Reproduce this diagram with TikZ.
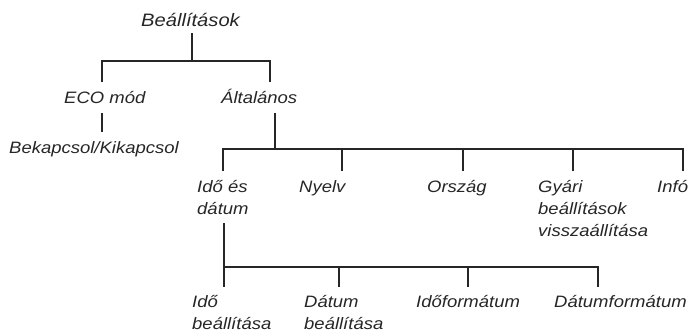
\documentclass[tikz,border=0pt]{standalone}
\usepackage{fontspec}
\setmainfont{Liberation Sans}[FakeStretch=1.12]
\definecolor{ink}{HTML}{262626}
\begin{document}
\begin{tikzpicture}[x=1pt,y=-1pt,
  lab/.style={anchor=base west,inner sep=0pt,align=left,text=ink,
    font=\fontsize{16.5}{22}\selectfont\itshape},
  rootlab/.style={lab,font=\fontsize{18}{22}\selectfont\itshape},
  link/.style={draw=ink,line width=1.8pt}]
\useasboundingbox (0,0) rectangle (692,335);
% labels (base anchor = baseline of the last line)
\node[rootlab] (root) at (141,26) {Beállítások};
\node[lab] (eco) at (64,103) {ECO mód};
\node[lab] (gen) at (221,103) {Általános};
\node[lab] (onoff) at (9,153) {Bekapcsol/Kikapcsol};
\node[lab] (dt) at (197,214) {Idő és\\dátum};
\node[lab] (lang) at (299,192) {Nyelv};
\node[lab] (country) at (427,192) {Ország};
\node[lab] (reset) at (538,236) {Gyári\\beállítások\\visszaállítása};
\node[lab] (info) at (657,192) {Infó};
\node[lab] (tset) at (192,329) {Idő\\beállítása};
\node[lab] (dset) at (304,329) {Dátum\\beállítása};
\node[lab] (tfmt) at (416,307) {Időformátum};
\node[lab] (dfmt) at (554,307) {Dátumformátum};
% junction points
\coordinate (rootb) at (192,33);
\coordinate (rootj) at (192,61);
\coordinate (ecot) at (102,82);
\coordinate (gent) at (270,82);
\coordinate (ecob) at (102,113);
\coordinate (onofft) at (102,132);
\coordinate (genb) at (275,113);
\coordinate (genj) at (275,149);
\coordinate (dtt) at (223,171);
\coordinate (langt) at (342,171);
\coordinate (countryt) at (463,171);
\coordinate (resett) at (573,171);
\coordinate (infot) at (683,171);
\coordinate (dtb) at (224,223);
\coordinate (dtj) at (224,267);
\coordinate (tsett) at (224,287);
\coordinate (dsett) at (339,287);
\coordinate (tfmtt) at (468,287);
\coordinate (dfmtt) at (598,287);
% connectors
\draw[link] (rootb) -- (rootj);
\draw[link] (ecot) |- (rootj) -| (gent);
\draw[link] (ecob) -- (onofft);
\draw[link] (genb) -- (genj);
\draw[link] (dtt) |- (genj) -| (infot);
\draw[link] (langt) -- (langt |- genj);
\draw[link] (countryt) -- (countryt |- genj);
\draw[link] (resett) -- (resett |- genj);
\draw[link] (dtb) -- (tsett);
\draw[link] (dtj) -| (dfmtt);
\draw[link] (dsett) -- (dsett |- dtj);
\draw[link] (tfmtt) -- (tfmtt |- dtj);
\end{tikzpicture}
\end{document}
